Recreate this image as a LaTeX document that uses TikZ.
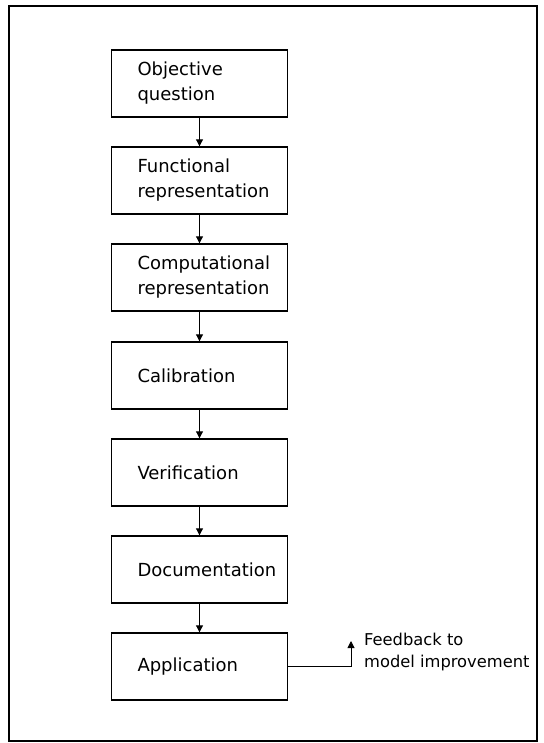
\documentclass[tikz,border=0pt]{standalone}
\usepackage{fontspec}
\setmainfont{DejaVu Sans}
\usetikzlibrary{arrows.meta}
\begin{document}
\begin{tikzpicture}[x=1pt,y=-1pt,
  stepbox/.style={draw, line width=1.4pt, minimum width=176pt, minimum height=67pt,
    text width=124pt, inner xsep=0pt, align=left,
    font=\fontsize{18}{25}\selectfont},
  flow/.style={line width=1pt, -{Triangle[length=7pt,width=7pt]}},
  note/.style={align=left, inner sep=0pt, font=\fontsize{16.3}{22}\selectfont}]
  \useasboundingbox (0,0) rectangle (543,743);
  % outer frame
  \draw[line width=1.2pt] (9,6) rectangle (537,741);
  % process steps
  \node[stepbox] (b1) at (199.5,83.5)  {Objective\\question};
  \node[stepbox] (b2) at (199.5,180.5) {Functional\\representation};
  \node[stepbox] (b3) at (199.5,277.5) {Computational\\representation};
  \node[stepbox] (b4) at (199.5,375.5) {Calibration};
  \node[stepbox] (b5) at (199.5,472.5) {Verification};
  \node[stepbox] (b6) at (199.5,569.5) {Documentation};
  \node[stepbox] (b7) at (199.5,666.5) {Application};
  % links between steps
  \foreach \a/\b in {b1/b2,b2/b3,b3/b4,b4/b5,b5/b6,b6/b7}
    \draw[flow] (\a.south) -- (\b.north);
  % feedback branch
  \coordinate (fbcorner) at (351,666.5);
  \coordinate (fbtip) at (351,641);
  \draw[flow] (b7.east) -- (fbcorner) -- (fbtip);
  \node[note, anchor=west] (fb) at (364,652) {Feedback to\\model improvement};
\end{tikzpicture}
\end{document}
